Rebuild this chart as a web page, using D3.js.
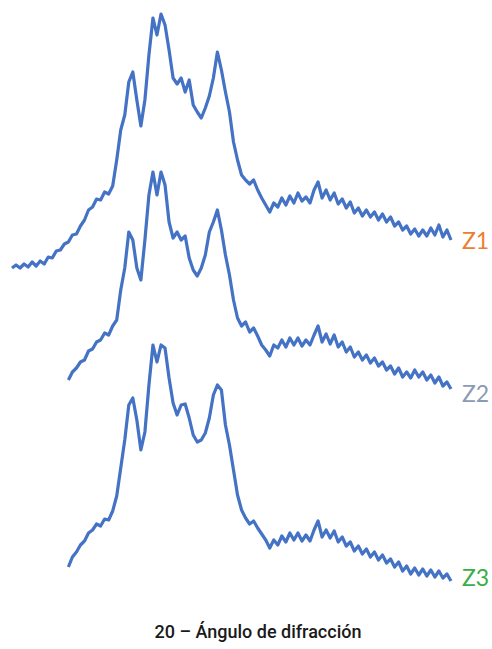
<!DOCTYPE html>
<html>
<head>
<meta charset="utf-8">
<script src="https://cdn.jsdelivr.net/npm/d3@7"></script>
<style>
  body { margin: 0; background: #fff; }
</style>
</head>
<body>
<div id="chart"></div>
<script>
// 2θ sampling (degrees), step 0.5
const thetaStep = 0.5;

// intensities (arbitrary units, curves already stacked)
const z1Values = [
  372, 375, 372, 376, 373, 378, 374, 379, 376, 383,
  382, 389, 390, 396, 398, 405, 406, 414, 420, 430,
  433, 441, 440, 448, 446, 454, 480, 510, 525, 558,
  568, 540, 514, 540, 585, 622, 605, 626, 615, 590,
  562, 556, 562, 548, 560, 535, 528, 522, 532, 544,
  562, 588, 570, 548, 528, 498, 480, 465, 460, 456,
  460, 450, 442, 435, 428, 437, 433, 442, 435, 444,
  437, 447, 439, 443, 437, 450, 458, 442, 450, 440,
  447, 436, 441, 432, 438, 427, 432, 424, 430, 423,
  428, 420, 426, 418, 423, 414, 418, 410, 414, 406,
  411, 404, 410, 404, 412, 405, 415, 403, 410, 400
];
const z1Start = 5;

const z2Values = [
  260, 268, 272, 278, 280, 289, 291, 298, 300, 307,
  305, 314, 320, 350, 372, 408, 400, 372, 360, 400,
  445, 468, 445, 468, 455, 418, 402, 408, 400, 404,
  382, 370, 364, 372, 385, 408, 418, 430, 410, 385,
  365, 340, 322, 314, 318, 308, 312, 304, 295, 290,
  284, 295, 292, 300, 293, 302, 295, 302, 294, 300,
  295, 305, 314, 298, 306, 296, 305, 293, 298, 288,
  293, 283, 288, 280, 285, 277, 282, 274, 278, 270,
  274, 266, 272, 263, 268, 262, 270, 263, 268, 260,
  265, 257, 263, 254, 258, 251
];
const z2Start = 12;

const z3Values = [
  73, 83, 88, 95, 99, 107, 110, 116, 114, 121,
  120, 129, 144, 172, 200, 235, 242, 220, 190, 208,
  255, 295, 278, 295, 292, 262, 237, 225, 235, 236,
  222, 205, 198, 200, 207, 222, 245, 255, 250, 215,
  195, 170, 145, 130, 122, 116, 119, 112, 106, 100,
  92, 100, 95, 104, 98, 107, 100, 107, 99, 105,
  99, 110, 119, 103, 110, 102, 109, 98, 103, 94,
  98, 89, 94, 86, 91, 83, 88, 80, 85, 77,
  81, 73, 78, 69, 74, 66, 72, 65, 71, 64,
  70, 63, 69, 62, 66, 59
];
const z3Start = 12;

const seriesNames = ["Z1", "Z2", "Z3"];
const labelColors = ["#ED7D31", "#8A9BB5", "#3AAE48"];
const xLabel = "20 \u2013 \u00C1ngulo de difracci\u00F3n";

const width = 492;
const height = 649;

const series = [
  {name: seriesNames[0], start: z1Start, values: z1Values, color: labelColors[0], dy: 9},
  {name: seriesNames[1], start: z2Start, values: z2Values, color: labelColors[1], dy: 13},
  {name: seriesNames[2], start: z3Start, values: z3Values, color: labelColors[2], dy: 5}
].map(s => ({
  ...s,
  points: s.values.map((v, i) => ({theta: s.start + i * thetaStep, y: v}))
}));

const svg = d3.select("#chart")
  .append("svg")
  .attr("width", width)
  .attr("height", height);

const xScale = d3.scaleLinear()
  .domain([5, 60])
  .range([12, 455]);

const yScale = d3.scaleLinear()
  .domain([0, 640])
  .range([640, 0]);

const line = d3.line()
  .x(d => xScale(d.theta))
  .y(d => yScale(d.y));

svg.selectAll(".trace")
  .data(series)
  .enter()
  .append("path")
  .attr("class", "trace")
  .attr("d", d => line(d.points))
  .style("fill", "none")
  .style("stroke", "#4472C4")
  .style("stroke-width", 3.2)
  .style("stroke-linejoin", "round");

// series labels at the end of each trace
svg.selectAll(".label")
  .data(series)
  .enter()
  .append("text")
  .attr("class", "label")
  .attr("x", d => xScale(d.points[d.points.length - 1].theta) + 11)
  .attr("y", d => yScale(d.points[d.points.length - 1].y) + d.dy)
  .text(d => d.name)
  .style("font-family", "Lato, 'Open Sans', sans-serif")
  .style("font-size", "23px")
  .style("fill", d => d.color);

svg.append("text")
  .attr("x", 258)
  .attr("y", 638)
  .attr("text-anchor", "middle")
  .text(xLabel)
  .style("font-family", "Roboto, 'Liberation Sans', sans-serif")
  .style("font-size", "18px")
  .style("font-weight", 500)
  .style("fill", "#1a1a1a");
</script>
</body>
</html>
